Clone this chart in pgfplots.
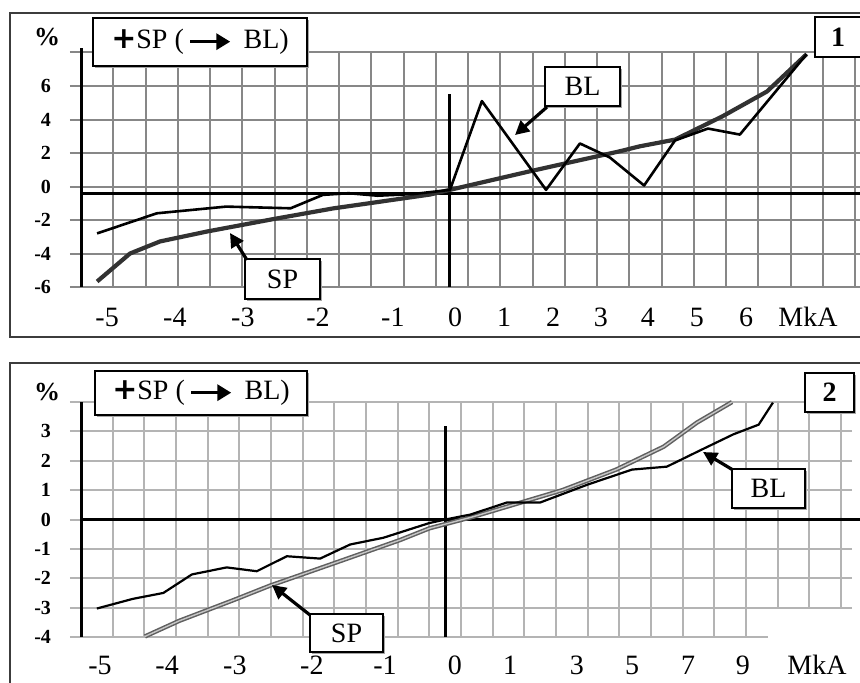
\documentclass[border=0pt]{standalone}
\usepackage{fontspec}
\setmainfont{Liberation Serif}
\newfontfamily\dejavu{DejaVu Sans}
\usepackage{pgfplots}
\pgfplotsset{compat=1.18}
\usetikzlibrary{arrows.meta,shadows}

\definecolor{gridgray}{RGB}{135,135,135}
\definecolor{gridgray2}{RGB}{180,180,180}
\definecolor{spgray}{RGB}{50,50,50}
\definecolor{framec}{RGB}{60,60,60}

\newcommand{\lbl}{\fontsize{14}{16}\selectfont}
\newcommand{\arr}{\tikz[baseline=-0.55ex]\draw[line width=1.7pt,-{Triangle[length=7pt,width=8pt]}] (0,0)--(20pt,0);}
\newcommand{\hplus}{{\dejavu\bfseries\fontsize{15}{16}\selectfont +}}

\pgfplotsset{
  panel/.style={
    scale only axis, clip=false,
    xmin=0, xmax=24,
    xtick={0,...,24}, xticklabels={},
    grid=major,
    axis line style={draw=none},
    xtick style={draw=none},
    tick align=outside, major tick length=5.5pt,
    yticklabel style={font=\fontsize{10}{11}\selectfont\bfseries, anchor=east, xshift=-6pt},
    extra x tick style={grid=none, major tick length=0pt,
      xticklabel style={font=\lbl, anchor=center, text height=9.6pt, text depth=0pt}},
  },
}

\begin{document}
\begin{tikzpicture}

% ---------- panel 1 ----------
\begin{axis}[panel,
  at={(40.5pt,-143.5pt)}, anchor=south west,
  width=387pt, height=117.25pt,
  ymin=-6, ymax=8,
  ytick={-6,-4,...,8}, yticklabels={-6,-4,-2,0,2,4,6,{}},
  major grid style={gridgray, line width=1pt},
  ytick style={gridgray, line width=1pt},
  extra x ticks={-0.25,0.81,2.91,5.02,7.35,9.67,11.6,13.12,14.64,16.12,17.58,19.1,20.62,22.54},
  extra x tick labels={-,-5,-4,-3,-2,-1,0,1,2,3,4,5,6,MkA},
  extra x tick style={xticklabel style={yshift=-15pt}},
]
\draw[black, line width=1.5pt] (axis cs:0,-6) -- (axis cs:0,8.25);
\draw[black, line width=1.6pt] (axis cs:0,-0.42) -- (axis cs:24.3,-0.42);
\draw[black, line width=1.5pt] (axis cs:11.44,-6) -- (axis cs:11.44,5.5);
\addplot[spgray, line width=2.1pt, line join=round] coordinates {
 (0.5,-5.67) (1.52,-4.0) (2.45,-3.28) (3.9,-2.69) (5.95,-1.95) (7.81,-1.31)
 (10.82,-0.48) (11.44,-0.2) (13.9,0.9) (16.7,2.1) (17.33,2.4) (18.42,2.8)
 (19.9,4.2) (21.27,5.67) (22.5,7.9)};
\addplot[black, line width=1.3pt, line join=round] coordinates {
 (0.5,-2.8) (2.35,-1.6) (4.5,-1.2) (6.5,-1.3) (7.5,-0.5) (8.3,-0.4) (9.2,-0.55)
 (10.3,-0.45) (11.44,-0.2) (12.43,5.1) (14.42,-0.2) (15.47,2.57) (16.4,1.73)
 (17.46,0.06) (18.42,2.75) (19.44,3.46) (20.43,3.1) (22.5,7.9)};
\end{axis}

% ---------- panel 2 ----------
\begin{axis}[panel,
  at={(40.5pt,-318.5pt)}, anchor=south west,
  width=380pt, height=117.5pt,
  ymin=-4, ymax=4,
  ytick={-4,...,4}, yticklabels={-4,-3,-2,-1,0,1,2,3,{}},
  major grid style={gridgray2, line width=1pt},
  ytick style={gridgray2, line width=1pt},
  extra x ticks={0.6,2.72,4.86,7.29,9.6,11.81,13.55,15.66,17.4,19.17,20.9,23.24},
  extra x tick labels={-5,-4,-3,-2,-1,0,1,3,5,7,9,MkA},
  extra x tick style={xticklabel style={yshift=-14pt}},
]
\fill[white] (axis cs:21.68,-4.2) rectangle (axis cs:24.6,-3.04);
\draw[black, line width=1.5pt] (axis cs:0,-4) -- (axis cs:0,4);
\draw[black, line width=1.5pt] (axis cs:0,0) -- (axis cs:24.7,0);
\draw[black, line width=1.5pt] (axis cs:11.52,-4) -- (axis cs:11.52,3.2);
\addplot[draw=gray!75!black, double=gray!45, double distance=0.7pt, line width=0.75pt, line join=round] coordinates {
 (2.02,-3.98) (3.1,-3.45) (4.8,-2.75) (5.97,-2.25) (7.96,-1.5) (10.07,-0.7)
 (11.0,-0.3) (12.4,0.1) (15.2,1.0) (16.9,1.7) (18.4,2.48) (19.45,3.3) (20.56,4.0)};
\addplot[black, line width=1.1pt, line join=round] coordinates {
 (0.5,-3.03) (1.64,-2.7) (2.6,-2.5) (3.5,-1.87) (4.6,-1.63) (5.55,-1.76) (6.5,-1.25)
 (7.55,-1.33) (8.5,-0.85) (9.55,-0.62) (11.0,-0.12) (11.5,0.0) (12.3,0.17)
 (13.45,0.58) (14.5,0.58) (16.0,1.19) (17.4,1.7) (18.5,1.8) (19.6,2.38) (20.6,2.9)
 (21.4,3.23) (21.85,3.98)};
\end{axis}

% ---------- annotations ----------
\begin{scope}[x=0.5pt,y=-0.5pt]
\tikzset{bx/.style={draw=black, line width=0.9pt, fill=white, inner sep=0pt,
   drop shadow={shadow xshift=1.2pt, shadow yshift=-1.2pt, fill=gray!70, opacity=1}},
   ar/.style={line width=1.6pt, -{Triangle[length=7pt,width=7pt]}}}
% frames
\draw[framec, line width=1.1pt] (10,13) rectangle (875,337);
\draw[framec, line width=1.1pt] (10,363) rectangle (875,695);
% percent signs
\node[font=\fontsize{13}{14}\selectfont\bfseries] at (47,37) {\%};
\node[font=\fontsize{13}{14}\selectfont\bfseries] at (47,392) {\%};
% panel 1
\node[bx, minimum width=107pt, minimum height=24pt, font=\lbl] at (200,42) {\hplus SP (\,\arr\, BL)};
\node[bx, minimum width=37.5pt, minimum height=19.5pt, font=\lbl] at (582.5,86.5) {BL};
\node[bx, minimum width=37.5pt, minimum height=20pt, font=\lbl] at (282.5,279) {SP};
\draw[ar] (547,107) -- (515,135);
\draw[ar] (247,260) -- (230,233);
\draw[black, line width=0.9pt, fill=white] (815,17) rectangle (875,57);
\node[font=\lbl\bfseries] at (838,37) {1};
% panel 2
\node[bx, minimum width=106pt, minimum height=22pt, font=\lbl] at (201,393) {\hplus SP (\,\arr\, BL)};
\node[bx, minimum width=36.5pt, minimum height=19.5pt, font=\lbl] at (768.5,488.5) {BL};
\node[bx, minimum width=36.5pt, minimum height=19pt, font=\lbl] at (346.5,633) {SP};
\draw[ar] (733,470) -- (703,452);
\draw[ar] (310,615) -- (272,585);
\node[bx, minimum width=24.5pt, minimum height=19.5pt, font=\lbl\bfseries] at (829.5,392.5) {2};
% fix the bounding box to the reference size
\pgfresetboundingbox
\path[use as bounding box] (0,0) rectangle (860,682);
\end{scope}
\end{tikzpicture}
\end{document}
